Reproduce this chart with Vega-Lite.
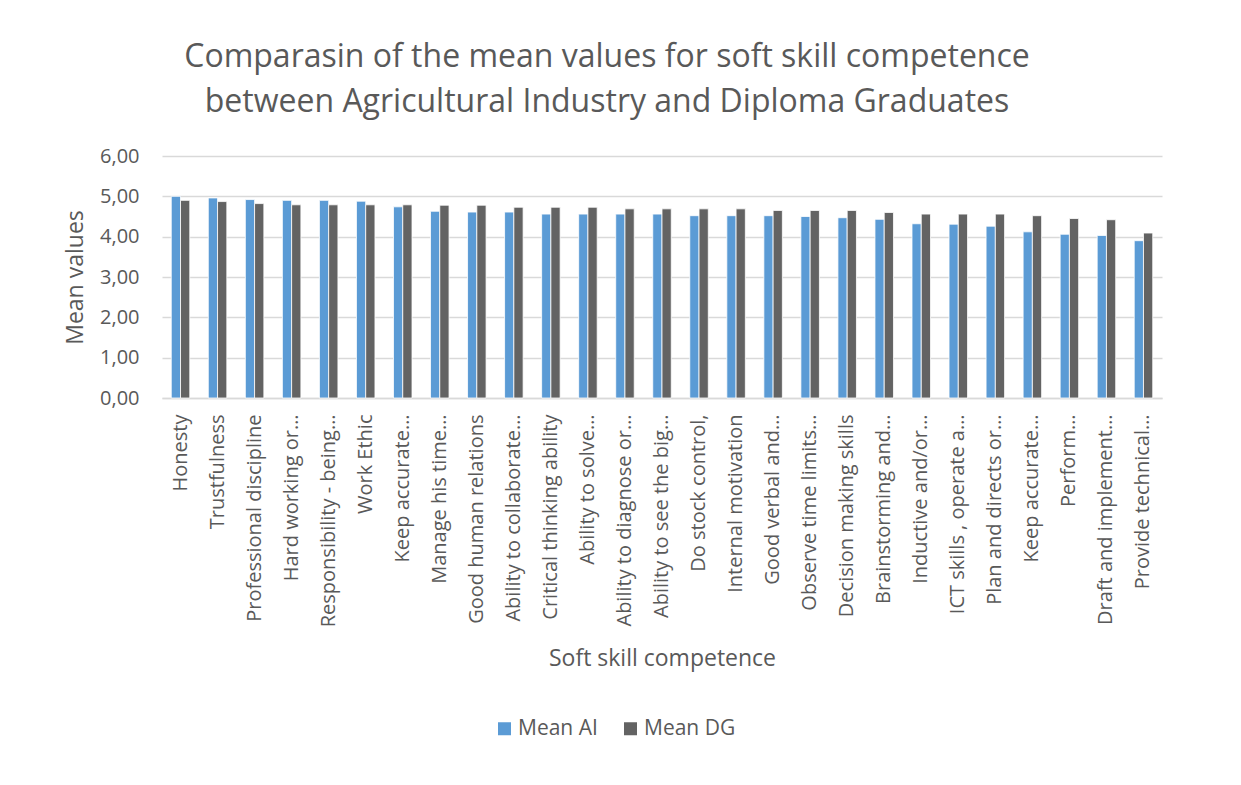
{
  "$schema": "https://vega.github.io/schema/vega-lite/v6.json",
  "width": 1000,
  "height": 242,
  "autosize": {"type": "none"},
  "padding": {"left": 162, "top": 156, "right": 79, "bottom": 387},
  "background": "white",
  "title": {
    "text": ["Comparasin of the mean values for soft skill competence", "between Agricultural Industry and Diploma Graduates"],
    "font": "Open Sans",
    "fontSize": 32,
    "fontWeight": "normal",
    "color": "#595959",
    "anchor": "middle",
    "frame": "group",
    "dx": -55,
    "offset": 27,
    "lineHeight": 45
  },
  "data": {
    "values": [
      {"skill": "Honesty", "series": "Mean AI", "value": 5.00},
      {"skill": "Honesty", "series": "Mean DG", "value": 4.90},
      {"skill": "Trustfulness", "series": "Mean AI", "value": 4.96},
      {"skill": "Trustfulness", "series": "Mean DG", "value": 4.87},
      {"skill": "Professional discipline", "series": "Mean AI", "value": 4.92},
      {"skill": "Professional discipline", "series": "Mean DG", "value": 4.82},
      {"skill": "Hard working or…", "series": "Mean AI", "value": 4.90},
      {"skill": "Hard working or…", "series": "Mean DG", "value": 4.79},
      {"skill": "Responsibility - being…", "series": "Mean AI", "value": 4.90},
      {"skill": "Responsibility - being…", "series": "Mean DG", "value": 4.79},
      {"skill": "Work Ethic", "series": "Mean AI", "value": 4.88},
      {"skill": "Work Ethic", "series": "Mean DG", "value": 4.79},
      {"skill": "Keep accurate…", "series": "Mean AI", "value": 4.74},
      {"skill": "Keep accurate…", "series": "Mean DG", "value": 4.79},
      {"skill": "Manage his time…", "series": "Mean AI", "value": 4.63},
      {"skill": "Manage his time…", "series": "Mean DG", "value": 4.78},
      {"skill": "Good human relations", "series": "Mean AI", "value": 4.61},
      {"skill": "Good human relations", "series": "Mean DG", "value": 4.78},
      {"skill": "Ability to collaborate…", "series": "Mean AI", "value": 4.61},
      {"skill": "Ability to collaborate…", "series": "Mean DG", "value": 4.73},
      {"skill": "Critical thinking ability", "series": "Mean AI", "value": 4.56},
      {"skill": "Critical thinking ability", "series": "Mean DG", "value": 4.73},
      {"skill": "Ability to solve…", "series": "Mean AI", "value": 4.56},
      {"skill": "Ability to solve…", "series": "Mean DG", "value": 4.73},
      {"skill": "Ability to diagnose or…", "series": "Mean AI", "value": 4.56},
      {"skill": "Ability to diagnose or…", "series": "Mean DG", "value": 4.69},
      {"skill": "Ability to see the big…", "series": "Mean AI", "value": 4.56},
      {"skill": "Ability to see the big…", "series": "Mean DG", "value": 4.69},
      {"skill": "Do stock control,", "series": "Mean AI", "value": 4.52},
      {"skill": "Do stock control,", "series": "Mean DG", "value": 4.69},
      {"skill": "Internal motivation", "series": "Mean AI", "value": 4.52},
      {"skill": "Internal motivation", "series": "Mean DG", "value": 4.69},
      {"skill": "Good verbal and…", "series": "Mean AI", "value": 4.52},
      {"skill": "Good verbal and…", "series": "Mean DG", "value": 4.65},
      {"skill": "Observe time limits…", "series": "Mean AI", "value": 4.50},
      {"skill": "Observe time limits…", "series": "Mean DG", "value": 4.65},
      {"skill": "Decision making skills", "series": "Mean AI", "value": 4.47},
      {"skill": "Decision making skills", "series": "Mean DG", "value": 4.65},
      {"skill": "Brainstorming  and…", "series": "Mean AI", "value": 4.43},
      {"skill": "Brainstorming  and…", "series": "Mean DG", "value": 4.60},
      {"skill": "Inductive and/or…", "series": "Mean AI", "value": 4.32},
      {"skill": "Inductive and/or…", "series": "Mean DG", "value": 4.56},
      {"skill": "ICT skills , operate a…", "series": "Mean AI", "value": 4.31},
      {"skill": "ICT skills , operate a…", "series": "Mean DG", "value": 4.56},
      {"skill": "Plan and directs or…", "series": "Mean AI", "value": 4.26},
      {"skill": "Plan and directs or…", "series": "Mean DG", "value": 4.56},
      {"skill": "Keep accurate… ", "series": "Mean AI", "value": 4.12},
      {"skill": "Keep accurate… ", "series": "Mean DG", "value": 4.52},
      {"skill": "Perform…", "series": "Mean AI", "value": 4.06},
      {"skill": "Perform…", "series": "Mean DG", "value": 4.45},
      {"skill": "Draft and implement…", "series": "Mean AI", "value": 4.03},
      {"skill": "Draft and implement…", "series": "Mean DG", "value": 4.42},
      {"skill": "Provide technical…", "series": "Mean AI", "value": 3.90},
      {"skill": "Provide technical…", "series": "Mean DG", "value": 4.09}
    ]
  },
  "mark": {"type": "bar", "stroke": "white", "strokeWidth": 0.8},
  "encoding": {
    "x": {
      "field": "skill",
      "type": "nominal",
      "sort": null,
      "scale": {"paddingInner": 0.5, "paddingOuter": 0.25},
      "axis": {
        "title": "Soft skill competence",
        "titleFont": "Open Sans",
        "titleFontSize": 23,
        "titleFontWeight": "normal",
        "titleColor": "#595959",
        "titlePadding": 49,
        "labelAngle": -90,
        "labelFont": "Open Sans",
        "labelFontSize": 20,
        "labelColor": "#595959",
        "labelPadding": 16,
        "labelLimit": 300,
        "ticks": false,
        "domainColor": "#D9D9D9",
        "domainWidth": 1.5
      }
    },
    "xOffset": {"field": "series", "type": "nominal"},
    "y": {
      "field": "value",
      "type": "quantitative",
      "scale": {"domain": [0, 6]},
      "axis": {
        "title": "Mean values",
        "titleFont": "Open Sans",
        "titleFontSize": 23,
        "titleFontWeight": "normal",
        "titleColor": "#595959",
        "titlePadding": 12,
        "values": [0, 1, 2, 3, 4, 5, 6],
        "labelExpr": "replace(format(datum.value, '.2f'), '.', ',')",
        "labelFont": "Open Sans",
        "labelFontSize": 20,
        "labelColor": "#595959",
        "labelPadding": 23,
        "ticks": false,
        "domain": false,
        "gridColor": "#D9D9D9",
        "gridWidth": 1.5
      }
    },
    "color": {
      "field": "series",
      "type": "nominal",
      "scale": {"domain": ["Mean AI", "Mean DG"], "range": ["#5B9BD5", "#636363"]},
      "legend": {
        "title": null,
        "orient": "none",
        "direction": "horizontal",
        "legendX": 332,
        "legendY": 562,
        "symbolType": "square",
        "symbolSize": 169,
        "symbolStrokeWidth": 0,
        "labelFont": "Open Sans",
        "labelFontSize": 21,
        "labelColor": "#595959",
        "columnPadding": 22,
        "labelOffset": 3
      }
    }
  },
  "config": {"view": {"stroke": null}}
}
